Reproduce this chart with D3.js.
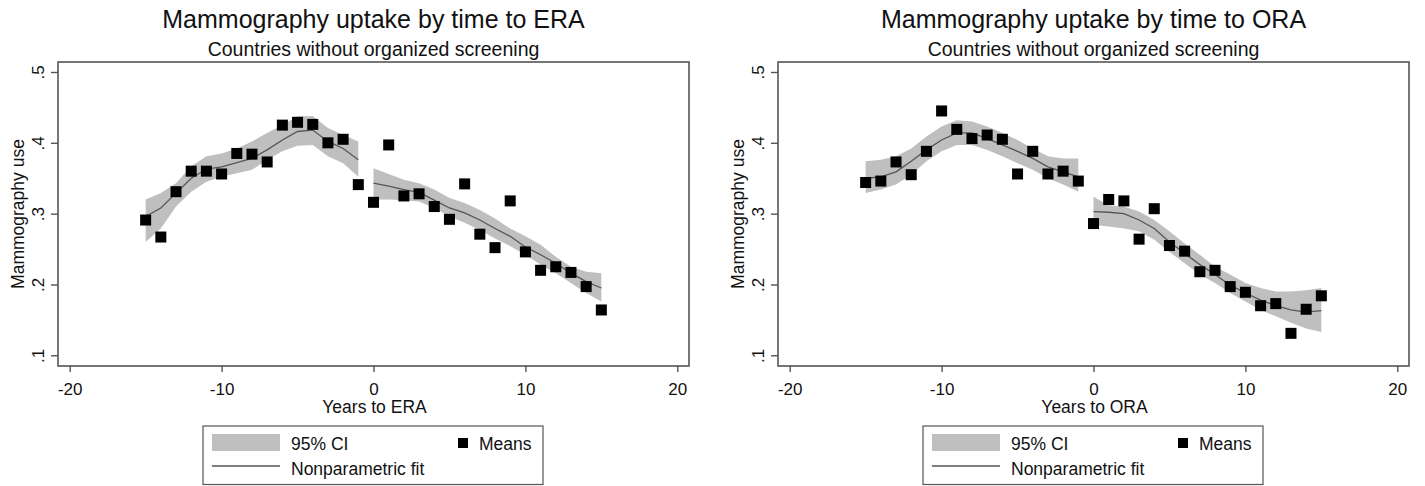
<!DOCTYPE html>
<html>
<head>
<meta charset="utf-8">
<script src="https://cdn.jsdelivr.net/npm/d3@7"></script>
<style>
  body { margin: 0; background: #fff; }
  svg { font-family: "Liberation Sans", Arial, sans-serif; }
</style>
</head>
<body>
<div id="chart"></div>
<script>

// years relative to the reform
var yearsPre  = [-15,-14,-13,-12,-11,-10,-9,-8,-7,-6,-5,-4,-3,-2,-1];
var yearsPost = [0,1,2,3,4,5,6,7,8,9,10,11,12,13,14,15];
var yearsAll  = yearsPre.concat(yearsPost);

var xTicks = [-20,-10,0,10,20];
var yTicks = [0.1,0.2,0.3,0.4,0.5];

// ERA panel
var eraMeans = [0.291,0.267,0.331,0.360,0.360,0.356,0.385,0.384,0.373,0.425,0.429,0.426,0.400,0.405,0.341,
                0.316,0.397,0.325,0.328,0.310,0.292,0.342,0.271,0.252,0.318,0.246,0.220,0.225,0.217,0.197,0.164];
var eraFitPre  = [0.296,0.308,0.329,0.350,0.363,0.366,0.372,0.378,0.390,0.404,0.416,0.418,0.402,0.392,0.376];
var eraLoPre   = [0.260,0.279,0.310,0.331,0.345,0.352,0.357,0.362,0.376,0.388,0.396,0.397,0.381,0.371,0.352];
var eraHiPre   = [0.320,0.329,0.343,0.367,0.381,0.385,0.392,0.402,0.414,0.425,0.437,0.438,0.421,0.411,0.402];
var eraFitPost = [0.343,0.339,0.334,0.330,0.319,0.308,0.301,0.291,0.279,0.268,0.253,0.242,0.230,0.216,0.204,0.195];
var eraLoPost  = [0.320,0.320,0.319,0.317,0.308,0.296,0.287,0.277,0.265,0.254,0.242,0.228,0.216,0.202,0.188,0.176];
var eraHiPost  = [0.364,0.356,0.348,0.343,0.334,0.322,0.315,0.305,0.293,0.279,0.268,0.256,0.239,0.225,0.218,0.216];

// ORA panel
var oraMeans = [0.344,0.346,0.373,0.355,0.388,0.445,0.419,0.406,0.411,0.405,0.356,0.388,0.356,0.360,0.346,
                0.286,0.320,0.318,0.264,0.307,0.255,0.247,0.218,0.220,0.197,0.189,0.170,0.173,0.131,0.165,0.184];
var oraFitPre  = [0.350,0.352,0.359,0.374,0.390,0.404,0.414,0.414,0.406,0.397,0.388,0.378,0.366,0.359,0.352];
var oraLoPre   = [0.329,0.334,0.341,0.355,0.374,0.388,0.397,0.397,0.390,0.381,0.371,0.362,0.350,0.341,0.331];
var oraHiPre   = [0.374,0.376,0.381,0.392,0.409,0.423,0.432,0.430,0.423,0.414,0.404,0.392,0.381,0.378,0.378];
var oraFitPost = [0.303,0.302,0.300,0.291,0.279,0.260,0.244,0.228,0.214,0.199,0.188,0.178,0.170,0.164,0.161,0.163];
var oraLoPost  = [0.284,0.282,0.279,0.275,0.263,0.246,0.230,0.214,0.202,0.188,0.176,0.164,0.155,0.146,0.138,0.133];
var oraHiPost  = [0.324,0.312,0.310,0.303,0.291,0.275,0.258,0.242,0.225,0.214,0.202,0.195,0.190,0.190,0.192,0.195];

var W = 1425, H = 486;
var svg = d3.select("#chart").append("svg")
    .attr("width", W)
    .attr("height", H);

function zipBand (xs, fit, lo, hi) {
    return xs.map(function(x, i) { return {x: x, fit: fit[i], lo: lo[i], hi: hi[i]}; });
}

function drawPanel (offX, title, xTitle, means, pre, post) {
    var g = svg.append("g").attr("transform", "translate(" + offX + ",0)");

    var frame = {left: 58, right: 689, top: 62, bottom: 366};

    var x = d3.scaleLinear().domain([-20, 20]).range([69.7, 677.3]);
    var y = d3.scaleLinear().domain([0.1, 0.5]).range([355.3, 72]);

    g.append("text")
        .attr("x", (frame.left + frame.right) / 2)
        .attr("y", 28)
        .attr("text-anchor", "middle")
        .attr("font-size", 25)
        .attr("fill", "#111")
        .text(title);
    g.append("text")
        .attr("x", (frame.left + frame.right) / 2)
        .attr("y", 56)
        .attr("text-anchor", "middle")
        .attr("font-size", 19.5)
        .attr("fill", "#111")
        .text("Countries without organized screening");

    var area = d3.area()
        .x(function(d) { return x(d.x); })
        .y0(function(d) { return y(d.lo); })
        .y1(function(d) { return y(d.hi); });
    var line = d3.line()
        .x(function(d) { return x(d.x); })
        .y(function(d) { return y(d.fit); });

    [pre, post].forEach(function(seg) {
        g.append("path").datum(seg)
            .attr("d", area)
            .attr("fill", "#bfbfbf");
    });
    [pre, post].forEach(function(seg) {
        g.append("path").datum(seg)
            .attr("d", line)
            .attr("fill", "none")
            .attr("stroke", "#555")
            .attr("stroke-width", 1.3);
    });

    var sq = 11;
    g.selectAll(".mean")
        .data(yearsAll.map(function(yr, i) { return {x: yr, v: means[i]}; }))
        .enter().append("rect")
        .attr("class", "mean")
        .attr("x", function(d) { return x(d.x) - sq / 2; })
        .attr("y", function(d) { return y(d.v) - sq / 2; })
        .attr("width", sq)
        .attr("height", sq)
        .attr("fill", "#000");

    g.append("rect")
        .attr("x", frame.left)
        .attr("y", frame.top)
        .attr("width", frame.right - frame.left)
        .attr("height", frame.bottom - frame.top)
        .attr("fill", "none")
        .attr("stroke", "#555")
        .attr("stroke-width", 1.6);

    var yAxis = g.append("g")
        .attr("transform", "translate(" + frame.left + ",0)")
        .call(d3.axisLeft(y).tickValues(yTicks).tickSize(7)
            .tickFormat(function(d) { return d3.format(".1f")(d).replace(/^0/, ""); }));
    yAxis.select(".domain").remove();
    yAxis.selectAll("line").attr("stroke", "#555").attr("stroke-width", 1.4);
    yAxis.selectAll("text")
        .attr("transform", "rotate(-90)")
        .attr("x", 0).attr("y", -14).attr("dy", 0)
        .attr("text-anchor", "middle")
        .attr("font-size", 17)
        .attr("font-family", "Liberation Sans, Arial, sans-serif")
        .attr("fill", "#111");

    var xAxis = g.append("g")
        .attr("transform", "translate(0," + frame.bottom + ")")
        .call(d3.axisBottom(x).tickValues(xTicks).tickSize(6)
            .tickFormat(function(d) { return String(d); }));
    xAxis.select(".domain").remove();
    xAxis.selectAll("line").attr("stroke", "#555").attr("stroke-width", 1.4);
    xAxis.selectAll("text")
        .attr("y", 29).attr("dy", 0)
        .attr("font-size", 17)
        .attr("font-family", "Liberation Sans, Arial, sans-serif")
        .attr("fill", "#111");

    g.append("text")
        .attr("transform", "translate(24," + (frame.top + frame.bottom) / 2 + ") rotate(-90)")
        .attr("text-anchor", "middle")
        .attr("font-size", 17.5)
        .attr("fill", "#111")
        .text("Mammography use");
    g.append("text")
        .attr("x", 374.5)
        .attr("y", 413)
        .attr("text-anchor", "middle")
        .attr("font-size", 17.5)
        .attr("fill", "#111")
        .text(xTitle);

    // legend
    var lg = g.append("g");
    lg.append("rect")
        .attr("x", 203).attr("y", 426).attr("width", 340).attr("height", 58.5)
        .attr("fill", "#fff").attr("stroke", "#555").attr("stroke-width", 1.2);
    lg.append("rect")
        .attr("x", 212).attr("y", 434).attr("width", 68).attr("height", 17)
        .attr("fill", "#bfbfbf");
    lg.append("line")
        .attr("x1", 212).attr("x2", 280).attr("y1", 466).attr("y2", 466)
        .attr("stroke", "#555").attr("stroke-width", 1.3);
    lg.append("rect")
        .attr("x", 458).attr("y", 438).attr("width", 10).attr("height", 10)
        .attr("fill", "#000");
    lg.append("text").attr("x", 291).attr("y", 450).attr("font-size", 17.5).attr("fill", "#111").text("95% CI");
    lg.append("text").attr("x", 291).attr("y", 475).attr("font-size", 17.5).attr("fill", "#111").text("Nonparametric fit");
    lg.append("text").attr("x", 479).attr("y", 450).attr("font-size", 17.5).attr("fill", "#111").text("Means");
}

drawPanel(0, "Mammography uptake by time to ERA", "Years to ERA", eraMeans,
    zipBand(yearsPre, eraFitPre, eraLoPre, eraHiPre),
    zipBand(yearsPost, eraFitPost, eraLoPost, eraHiPost));

drawPanel(720, "Mammography uptake by time to ORA", "Years to ORA", oraMeans,
    zipBand(yearsPre, oraFitPre, oraLoPre, oraHiPre),
    zipBand(yearsPost, oraFitPost, oraLoPost, oraHiPost));

</script>
</body>
</html>
